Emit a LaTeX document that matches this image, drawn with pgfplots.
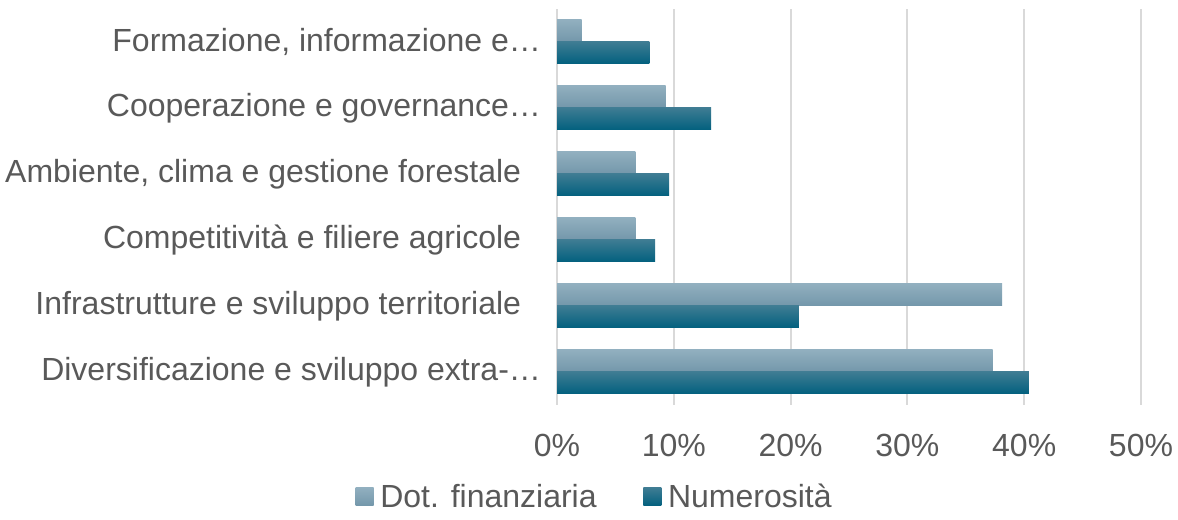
\documentclass[border=0pt]{standalone}
\usepackage{fontspec}
\setmainfont{Liberation Sans}
\usepackage{pgfplots}
\pgfplotsset{compat=1.18}
\definecolor{txt}{HTML}{595959}
\definecolor{gridc}{HTML}{D9D9D9}
\definecolor{dtop}{HTML}{91AFBF}
\definecolor{dbot}{HTML}{7397AA}
\definecolor{ntop}{HTML}{3E7C93}
\definecolor{nbot}{HTML}{02607E}
\pgfplotsset{
  dotbar/.style={draw=none, top color=dtop, bottom color=dbot, bar shift=8.25pt},
  numbar/.style={draw=none, top color=ntop, bottom color=nbot, bar shift=-8.25pt},
}
\begin{document}
\begin{tikzpicture}[x=1pt,y=1pt]
\useasboundingbox (0,0) rectangle (883.5,390);
\begin{axis}[
  at={(417.75pt,86.25pt)}, anchor=south west,
  scale only axis, width=438pt, height=297pt,
  xmin=0, xmax=50, ymin=-0.5, ymax=5.5,
  xtick={0,10,20,30,40,50},
  xticklabels={0\%,10\%,20\%,30\%,40\%,50\%},
  ytick={0,1,2,3,4,5},
  yticklabels={Diversificazione e sviluppo extra-…,
    Infrastrutture e sviluppo territoriale\hspace*{15pt},
    Competitività e filiere agricole\hspace*{15pt},
    Ambiente{,} clima e gestione forestale\hspace*{15pt},
    Cooperazione e governance…,
    Formazione{,} informazione e…},
  axis line style={draw=none},
  major tick style={draw=none},
  xmajorgrids, major grid style={gridc, line width=1.5pt},
  ticklabel style={font=\fontsize{24}{28}\selectfont, text=txt},
  xticklabel style={anchor=center, yshift=-30pt},
  yticklabel style={anchor=east, inner sep=0pt, xshift=-7.5pt},
  xbar, bar width=16.5pt,
  legend columns=2,
  legend style={at={(0.065,-0.232)}, anchor=center, draw=none, fill=none,
    font=\fontsize{24}{28}\selectfont, text=txt,
    /tikz/every odd column/.append style={column sep=3pt},
    /tikz/every even column/.append style={column sep=33pt}},
  legend image code/.code={\path[#1,draw=none] (0pt,-6.75pt) rectangle (13.5pt,6.75pt);},
]
\addlegendimage{dotbar}
\addlegendentry{Dot. finanziaria}
\addlegendimage{numbar}
\addlegendentry{Numerosità}
% Dot. finanziaria
\addplot[dotbar, forget plot] coordinates {(37.3,0)};
\addplot[dotbar, forget plot] coordinates {(38.1,1)};
\addplot[dotbar, forget plot] coordinates {(6.7,2)};
\addplot[dotbar, forget plot] coordinates {(6.7,3)};
\addplot[dotbar, forget plot] coordinates {(9.3,4)};
\addplot[dotbar, forget plot] coordinates {(2.1,5)};
% Numerosita
\addplot[numbar, forget plot] coordinates {(40.4,0)};
\addplot[numbar, forget plot] coordinates {(20.7,1)};
\addplot[numbar, forget plot] coordinates {(8.4,2)};
\addplot[numbar, forget plot] coordinates {(9.6,3)};
\addplot[numbar, forget plot] coordinates {(13.2,4)};
\addplot[numbar, forget plot] coordinates {(7.9,5)};
\end{axis}
\end{tikzpicture}
\end{document}
